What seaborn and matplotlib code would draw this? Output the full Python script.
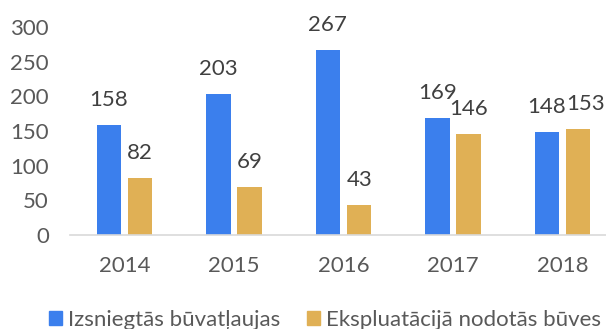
import matplotlib
matplotlib.use("Agg")
import matplotlib.pyplot as plt
import seaborn as sns
import pandas as pd

years = ["2014", "2015", "2016", "2017", "2018"]
permits = [158, 203, 267, 169, 148]
commissioned = [82, 69, 43, 146, 153]
series_names = ["Izsniegtās būvatļaujas", "Ekspluatācijā nodotās būves"]
palette = ["#3b7fed", "#e0b055"]

df = pd.DataFrame({
    "year": years * 2,
    "value": permits + commissioned,
    "series": [series_names[0]] * len(years) + [series_names[1]] * len(years),
})

sns.set_theme(style="white")
plt.rcParams["font.family"] = ["Lato", "DejaVu Sans"]

fig = plt.figure(figsize=(6.06, 3.29), dpi=100)
W, H = 606, 329
ax = fig.add_axes([69.75 / W, (H - 235) / H, 547.5 / W, (235 - 27) / H])

sns.barplot(data=df, x="year", y="value", hue="series", order=years,
            hue_order=series_names, palette=palette, width=0.575, gap=0.222,
            linewidth=0, saturation=1, ax=ax, legend=True)

ax.set_xlim(-0.5, 4.5)
ax.set_ylim(0, 300)
ax.set_yticks(range(0, 301, 50))
ax.set_xlabel("")
ax.set_ylabel("")
for s in ["top", "right", "left"]:
    ax.spines[s].set_visible(False)
ax.spines["bottom"].set_color("#d9d9d9")
ax.spines["bottom"].set_linewidth(1.2)
ax.tick_params(axis="y", length=0, pad=15, labelsize=16, labelcolor="#595959")
ax.tick_params(axis="x", length=0, pad=15, labelsize=16, labelcolor="#595959")

# value labels above bars; the 2018 pair sits close, so nudge its right label
nudge_x = {(1, 4): 5}
for si, cont in enumerate(ax.containers):
    for ci, (bar, v) in enumerate(zip(cont, cont.datavalues)):
        dx = nudge_x.get((si, ci), 0)
        ax.annotate(f"{int(v)}", (bar.get_x() + bar.get_width() / 2, v),
                    xytext=(dx, 18), textcoords="offset points",
                    ha="center", va="center", fontsize=16, color="#404040")

ax.get_legend().remove()
handles = [plt.Rectangle((0, 0), 1, 1, color=c) for c in palette]
fig.legend(handles, series_names, loc="center", bbox_to_anchor=(325 / W, (H - 320) / H),
           ncol=2, frameon=False, fontsize=16, labelcolor="#595959",
           handlelength=0.6, handleheight=0.6, handletextpad=0.25,
           columnspacing=1.2, borderpad=0)

fig.savefig("out.png", dpi=100)
